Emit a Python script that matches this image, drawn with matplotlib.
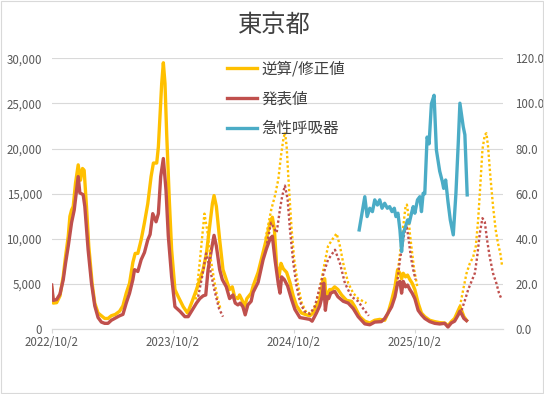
import numpy as np
import matplotlib
matplotlib.use("Agg")
import matplotlib.pyplot as plt
from matplotlib.patches import Rectangle
from matplotlib.ticker import FuncFormatter

plt.rcParams['font.family'] = ['Noto Sans CJK JP', 'DejaVu Sans']

START = np.datetime64('2022-10-02')

# 逆算/修正値 (days from 2022/10/2, value)
gyaku_day = [0, 5, 15, 25, 35, 42, 50, 55, 60, 65, 72, 80, 87, 93, 98, 105, 112, 122, 130, 140,
             150, 160, 170, 180, 192, 205, 215, 225, 235, 245, 252, 260, 270, 280, 290, 300, 307,
             317, 322, 332, 337, 342, 347, 355, 362, 372, 382, 397, 410, 422, 437, 447, 457, 467,
             477, 485, 490, 497, 507, 517, 527, 537, 545, 552, 562, 567, 575, 582, 589, 602, 608,
             623, 638, 648, 659, 666, 672, 679, 686, 692, 699, 709, 719, 729, 739, 754, 769, 779,
             789, 799, 809, 819, 824, 829, 834, 839, 846, 854, 864, 875, 890, 905, 915, 930, 945,
             960, 975, 990, 1005, 1015, 1026, 1036, 1044, 1051, 1056, 1061, 1068, 1074, 1081, 1088,
             1096, 1106, 1116, 1126, 1141, 1156, 1171, 1186, 1196, 1206, 1216, 1227, 1232, 1237,
             1244, 1252]
gyaku_val = [4600, 2900, 2950, 3700, 5900, 8100, 10300, 12500, 13200, 13600, 16200, 18200, 16500,
             17800, 17600, 13600, 9200, 5100, 2900, 1800, 1500, 1200, 1200, 1500, 1650, 2000, 2600,
             4000, 5100, 7400, 8400, 8400, 9900, 11800, 13900, 16900, 18400, 18400, 20200, 27200,
             29500, 27200, 21700, 14300, 8800, 4400, 3600, 2500, 1800, 2900, 4400, 5500, 6600, 8400,
             11400, 13900, 14800, 13600, 9900, 6600, 5500, 4400, 4700, 3600, 3400, 3800, 3200, 2500,
             3400, 4000, 4800, 6300, 8500, 10000, 11800, 12400, 11100, 7000, 5800, 7300, 6700, 6300,
             5200, 3700, 2600, 1800, 1600, 1500, 1800, 2600, 3300, 5500, 5600, 2900, 4000, 4400,
             4400, 4700, 4400, 3800, 3200, 3100, 2500, 1400, 900, 700, 1000, 1100, 1000, 1800, 3200,
             4700, 6600, 6200, 5600, 6200, 5800, 6000, 5500, 5100, 4400, 2900, 1800, 1400, 1000, 850,
             740, 700, 400, 850, 1200, 2100, 2500, 2100, 1400, 1000]

# 発表値
happyo_day = [0, 5, 15, 25, 35, 42, 50, 60, 68, 75, 80, 85, 95, 100, 110, 120, 130, 140, 150, 160,
              170, 180, 190, 205, 215, 225, 235, 245, 250, 260, 270, 280, 290, 297, 305, 315, 322,
              329, 337, 345, 352, 362, 372, 387, 402, 412, 422, 437, 447, 457, 465, 472, 482, 490,
              497, 507, 515, 527, 537, 547, 554, 562, 569, 577, 584, 592, 602, 608, 623, 638, 648,
              659, 666, 674, 684, 689, 694, 702, 712, 724, 734, 749, 764, 779, 786, 799, 809, 816,
              821, 826, 831, 836, 842, 854, 864, 880, 895, 910, 925, 945, 960, 975, 995, 1005, 1015,
              1026, 1036, 1044, 1051, 1056, 1061, 1068, 1074, 1081, 1088, 1096, 1106, 1116, 1126,
              1141, 1156, 1171, 1186, 1196, 1206, 1216, 1227, 1232, 1237, 1244, 1252]
happyo_val = [4900, 3200, 3300, 3900, 5500, 7350, 9200, 11800, 13200, 15400, 16900, 15100, 14900,
              13600, 8800, 5150, 2600, 1300, 800, 660, 660, 1000, 1200, 1500, 1650, 2900, 4000, 5500,
              6600, 6400, 7700, 8500, 9900, 10500, 12800, 11900, 12800, 16900, 18900, 15400, 10300,
              5800, 2500, 2000, 1400, 1400, 2000, 2900, 3400, 3700, 3800, 6600, 8800, 10400, 9200,
              6600, 5500, 4700, 3400, 3800, 2900, 2700, 2900, 2500, 1600, 2700, 3100, 4100, 5200,
              7700, 8900, 10000, 10300, 7700, 5000, 4000, 5800, 5500, 4800, 3300, 2200, 1300, 1200,
              1100, 900, 1800, 2600, 3600, 5100, 2100, 3600, 3400, 4000, 4200, 3600, 3100, 2900,
              2300, 1400, 600, 500, 800, 850, 1200, 1800, 2500, 3600, 5100, 5300, 4000, 5300, 4700,
              4900, 4400, 4000, 3400, 2100, 1600, 1200, 850, 660, 590, 660, 250, 700, 900, 1600,
              2000, 1700, 1200, 960]

# 急性呼吸器 (right axis)
kyusei_day = [928, 945, 952, 960, 968, 975, 983, 990, 997, 1005, 1013, 1020, 1027, 1034, 1039,
              1045, 1051, 1056, 1061, 1068, 1074, 1079, 1086, 1091, 1096, 1104, 1111, 1116, 1121,
              1126, 1133, 1139, 1146, 1154, 1161, 1171, 1179, 1183, 1189, 1196, 1203, 1212, 1220,
              1227, 1232, 1242, 1247, 1254]
kyusei_val = [44.0, 58.7, 49.9, 53.6, 52.1, 57.3, 55.0, 57.3, 53.6, 55.8, 53.6, 54.3, 52.1, 53.6,
              49.9, 51.4, 44.0, 34.4, 42.5, 45.5, 48.4, 47.0, 51.4, 54.3, 51.4, 57.3, 58.7, 52.1,
              60.2, 60.0, 85.1, 82.1, 99.8, 103.6, 79.4, 70.0, 65.4, 62.4, 66.1, 56.5, 48.4, 41.8,
              60.2, 82.4, 100.1, 89.7, 86.1, 59.5]

# dotted overlays (segments split by NaN)
dot_gyaku_day = [435, 447, 461, 470, 480, 490, 500, 510, np.nan,
                 645, 663, 674, 684, 692, 699, 704, 709, 714, 719, 724, 732, 744, 754, 769, 784,
                 799, 809, 822, 834, 848, 860, 870, 880, 895, 910, 925, 950, np.nan,
                 1040, 1045, 1054, 1061, 1068, 1072, 1076, 1081, 1088, 1094, 1104, np.nan,
                 1232, 1242, 1252, 1262, 1272, 1280, 1287, 1294, 1300, 1307, 1312, 1317, 1324,
                 1332, 1340, 1347, 1354, 1359]
dot_gyaku_val = [3300, 7500, 12800, 10800, 7800, 5500, 3500, 2200, np.nan,
                 10000, 13300, 14800, 16600, 19200, 21000, 21800, 20300, 17000, 14000, 11100,
                 7700, 4800, 3000, 1800, 1800, 3000, 4500, 7000, 9200, 10000, 10600, 9200, 7300,
                 5100, 4000, 3400, 2900, np.nan,
                 5500, 6600, 9200, 11400, 13600, 13800, 12800, 10600, 8400, 6600, 4600, np.nan,
                 2500, 4400, 6200, 7300, 8000, 9200, 12100, 16200, 19900, 21500, 21700, 20200,
                 16900, 13600, 11000, 9500, 8400, 7100]
dot_happyo_day = [442, 455, 466, 477, 492, 505, 517, np.nan,
                  650, 662, 672, 679, 689, 696, 704, 712, 719, 729, 739, 749, 762, 779, 794, 806,
                  819, 834, 855, 870, 885, 905, 925, 940, 957, np.nan,
                  1040, 1044, 1051, 1058, 1064, 1071, 1076, 1084, 1091, 1098, np.nan,
                  1237, 1247, 1257, 1267, 1277, 1284, 1292, 1300, 1307, 1314, 1322, 1332, 1342,
                  1350, 1357]
dot_happyo_val = [3600, 6000, 8400, 6800, 4200, 2300, 1400, np.nan,
                  9500, 11800, 11100, 10700, 13300, 14800, 15900, 14400, 11100, 7400, 4800, 3100,
                  2000, 1700, 2500, 4200, 6000, 7700, 8800, 7300, 5100, 3600, 3100, 2300, 1500,
                  np.nan,
                  4500, 5500, 7700, 9200, 10600, 11500, 10300, 8000, 6600, 5500, np.nan,
                  2100, 3200, 4400, 5300, 6200, 8000, 10600, 12300, 11900, 9900, 8000, 6200, 5100,
                  4000, 3400]

tick_dates = ['2022-10-02', '2023-10-02', '2024-10-02', '2025-10-02']


def to_dates(days):
    d = np.array(days, dtype=float)
    out = np.full(d.shape, np.datetime64('NaT'), dtype='datetime64[D]')
    ok = ~np.isnan(d)
    out[ok] = START + d[ok].astype(int).astype('timedelta64[D]')
    return out


ORANGE = '#FFC000'
RED = '#C0504D'
BLUE = '#4BACC6'
GRID = '#D9D9D9'
TXT = '#595959'

fig = plt.figure(figsize=(5.44, 3.94), dpi=100)
fig.patches.append(Rectangle((0.002, 0.003), 0.996, 0.994, transform=fig.transFigure,
                             fill=False, edgecolor=GRID, linewidth=0.8))

ax = fig.add_axes([0.095, 0.1642, 0.8296, 0.688])
ax2 = ax.twinx()

l1, = ax.plot(to_dates(gyaku_day), gyaku_val, color=ORANGE, lw=2.4, label='逆算/修正値')
l2, = ax.plot(to_dates(happyo_day), happyo_val, color=RED, lw=2.4, label='発表値')
ax.plot(to_dates(dot_gyaku_day), dot_gyaku_val, color=ORANGE, lw=1.7, linestyle=(0, (1, 1)))
ax.plot(to_dates(dot_happyo_day), dot_happyo_val, color=RED, lw=1.7, linestyle=(0, (1, 1)))
l3, = ax2.plot(to_dates(kyusei_day), kyusei_val, color=BLUE, lw=2.4, label='急性呼吸器')

ax.set_ylim(0, 30000)
ax.set_yticks(np.arange(0, 30001, 5000))
ax.yaxis.set_major_formatter(FuncFormatter(lambda v, p: f'{v:,.0f}'))
ax2.set_ylim(0, 120)
ax2.set_yticks(np.arange(0, 121, 20))
ax2.yaxis.set_major_formatter(FuncFormatter(lambda v, p: f'{v:.1f}'))

ax.set_xlim(START, START + np.timedelta64(1362, 'D'))
ax.set_xticks([np.datetime64(t) for t in tick_dates])
ax.set_xticklabels([f'{t[:4]}/{int(t[5:7])}/{int(t[8:])}' for t in tick_dates])

ax.grid(axis='y', color=GRID, lw=0.8)
ax.set_axisbelow(True)
for a in (ax, ax2):
    for s in ('top', 'left', 'right'):
        a.spines[s].set_visible(False)
    a.spines['bottom'].set_color(GRID)
    a.spines['bottom'].set_linewidth(0.8)
ax.tick_params(axis='y', length=0, pad=7, labelsize=8.3, labelcolor=TXT)
ax2.tick_params(axis='y', length=0, pad=9, labelsize=8.3, labelcolor=TXT)
ax.tick_params(axis='x', length=3, color=GRID, pad=2, labelsize=8.3, labelcolor=TXT)

fig.text(0.505, 1 - 25 / 394, '東京都', ha='center', va='center', fontsize=17.5, color='#404040')

fig.legend(handles=[l1, l2, l3], loc='upper left', bbox_to_anchor=(227 / 544, 1 - 60 / 394),
           frameon=False, fontsize=11.2, handlelength=1.9, handletextpad=0.3, labelspacing=0.85,
           borderpad=0, borderaxespad=0, labelcolor='#404040')

fig.savefig('out.png', dpi=100)
